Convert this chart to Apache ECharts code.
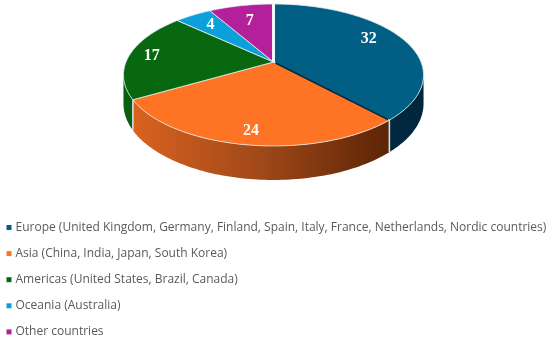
<!DOCTYPE html>
<html>
<head>
<meta charset="utf-8">
<style>html,body{margin:0;padding:0;background:#fff}#c{width:550px;height:342px}</style>
<script src="https://cdn.jsdelivr.net/npm/echarts@6/dist/echarts.min.js"></script>
</head>
<body>
<div id="c"></div>
<script>
const categories = [
  'Europe (United Kingdom, Germany, Finland, Spain, Italy, France, Netherlands, Nordic countries)',
  'Asia (China, India, Japan, South Korea)',
  'Americas (United States, Brazil, Canada)',
  'Oceania (Australia)',
  'Other countries'
];
const values = [32, 24, 17, 4, 7];
const colors = ['#015f85', '#fe7324', '#07680f', '#0ba0d9', '#b4209a'];
const labelRadius = [0.78, 0.86, 0.845, 0.76, 0.7];
const labelAngleShift = [-6.6, 0, 0, 0, 0];
const wallFills = [
  [[0, '#00283f'], [1, '#00263c']],
  [[0, '#d9621f'], [0.5, '#a04818'], [1, '#5c2406']],
  [[0, '#0a5f10'], [1, '#0a5f10']],
  null, null
];

// Pie geometry: a tilted disc under perspective
const P = { cx: 273.5, cy: 62, A: 147.5, B: 68.6, k: 0.183, depth: 27.8 };
const SIL_R = Math.PI - Math.acos(P.k);      // right silhouette
const SIL_L = 2 * Math.PI - SIL_R;           // left silhouette
const total = values.reduce((a, b) => a + b, 0);

function proj(a, f, down) {
  const w = 1 + P.k * f * Math.cos(a);
  return [
    P.cx + P.A * f * Math.sin(a) / w,
    P.cy - P.B * f * Math.cos(a) / w + (down ? P.depth / w : 0)
  ];
}
function arc(a0, a1, down) {
  const pts = [];
  const n = Math.max(2, Math.ceil(Math.abs(a1 - a0) / 0.02));
  for (let i = 0; i <= n; i++) pts.push(proj(a0 + (a1 - a0) * i / n, 1, down));
  return pts;
}
const RIM = 'rgba(226,238,240,0.9)';

function renderSlice(i) {
  return function (params, api) {
    const v = api.value(0);
    const before = values.slice(0, i).reduce((a, b) => a + b, 0);
    const a0 = before / total * 2 * Math.PI;
    const a1 = (before + v) / total * 2 * Math.PI;
    const children = [];
    // outer wall
    const w0 = Math.max(a0, SIL_R), w1 = Math.min(a1, SIL_L);
    if (wallFills[i] && w1 > w0) {
      const pts = arc(w0, w1, false).concat(arc(w1, w0, true));
      const xs = pts.map(p => p[0]);
      const stops = wallFills[i].map(s => ({ offset: s[0], color: s[1] }));
      children.push({
        type: 'polygon', z2: 1, shape: { points: pts },
        style: {
          fill: new echarts.graphic.LinearGradient(Math.min(...xs), 0, Math.max(...xs), 0, stops, true),
          stroke: null
        }
      });
      if (i === 1) {
        [a0, a1].forEach(a => children.push({
          type: 'polyline', z2: 2,
          shape: { points: [proj(a, 1, false), proj(a, 1, true)] },
          style: { stroke: '#d5dedf', lineWidth: 1.6, fill: null }
        }));
      }
    }
    // top face
    const top = [proj(0, 0, false)].concat(arc(a0, a1, false));
    children.push({
      type: 'polygon', z2: 3, shape: { points: top },
      style: { fill: api.visual('color'), stroke: RIM, lineWidth: 0.9, lineJoin: 'round' }
    });
    if (i === 0) {
      // dark cut face under the Europe slice
      children.push({
        type: 'polyline', z2: 5,
        shape: { points: [proj(a1, 0.02, false), proj(a1, 0.99, false)] },
        style: { stroke: '#00263c', lineWidth: 1.7, fill: null }
      });
      // pale gap where the first slice begins
      children.push({
        type: 'polyline', z2: 5,
        shape: { points: [proj(a0, 0, false), proj(a0, 1.02, false)] },
        style: { stroke: '#f2f6f6', lineWidth: 3, fill: null }
      });
    }
    // value label
    const mid = (a0 + a1) / 2 + labelAngleShift[i] * Math.PI / 180;
    const lp = proj(mid, labelRadius[i], false);
    children.push({
      type: 'text', z2: 10, x: lp[0], y: lp[1],
      style: {
        text: String(v), fill: '#fff', align: 'center', verticalAlign: 'middle',
        fontFamily: '"Liberation Serif"', fontWeight: 'bold', fontSize: 16
      }
    });
    return { type: 'group', children: children };
  };
}

const chart = echarts.init(document.getElementById('c'), null, { renderer: 'canvas' });
chart.setOption({
  animation: false,
  backgroundColor: '#fff',
  legend: {
    orient: 'vertical', left: 6.5, top: 220.5, width: 550,
    itemWidth: 5, itemHeight: 5, itemGap: 12.1, icon: 'rect', selectedMode: false,
    padding: 0,
    textStyle: { fontFamily: '"Open Sans"', fontSize: 12, color: '#5a5a5a', lineHeight: 14, padding: [0, 0, 0, -1] },
    data: categories
  },
  series: categories.map((name, i) => ({
    type: 'custom', name: name, coordinateSystem: 'none', silent: true,
    itemStyle: { color: colors[i] },
    data: [values[i]],
    renderItem: renderSlice(i)
  }))
});
</script>
</body>
</html>
